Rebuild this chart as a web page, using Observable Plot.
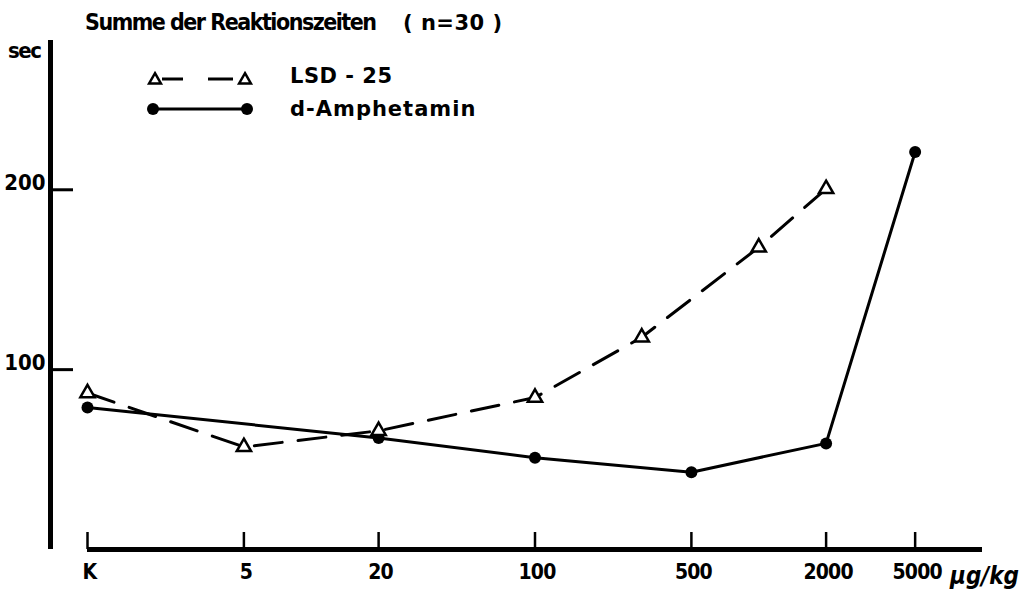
<!DOCTYPE html>
<html><head><meta charset="utf-8">
<script src="https://cdn.jsdelivr.net/npm/d3@7"></script>
<script src="https://cdn.jsdelivr.net/npm/@observablehq/plot@0.6"></script>
<style>
body{margin:0;background:#fff}
#wrap{position:relative;width:1027px;height:603px;background:#fff}
#wrap svg{position:absolute;left:0;top:0}
</style>
</head><body><div id="wrap"></div>
<script>
// Data (dose in µg/kg; "K" = control, drawn at dose position 1)
const lsdDose = [1, 5, 20, 100, 300, 1000, 2000];
const lsdSec  = [87, 57, 66, 84.5, 118, 168, 200.5];
const ampDose = [1, 20, 100, 500, 2000, 5000];
const ampSec  = [79, 62, 51, 43, 59, 221];
const xTicks = [1, 5, 20, 100, 500, 2000, 5000];
const xTickLabels = ["K", "5", "20", "100", "500", "2000", "5000"];
const yTicks = [100, 200];
const titleText = "Summe der Reaktionszeiten";
const titleN = "( n=30 )";
const yUnit = "sec";
const xUnit = "\u00b5g/kg";
const seriesNames = ["LSD - 25", "d-Amphetamin"];

const lsd = lsdDose.map((d, i) => ({dose: d, sec: lsdSec[i]}));
const amp = ampDose.map((d, i) => ({dose: d, sec: ampSec[i]}));
const xTickData = xTicks.map((d, i) => ({dose: d, label: xTickLabels[i]}));

const W = 1027, H = 603, mL = 87, mR = 45, mT = 40, mB = 54;
const frameW = W - mL - mR, frameH = H - mT - mB;
const condensed = "'DejaVu Sans Condensed', 'DejaVu Sans', sans-serif";

const chart = Plot.plot({
  width: W, height: H,
  marginLeft: mL, marginRight: mR, marginTop: mT, marginBottom: mB,
  x: {type: "log", domain: [1, 10000], axis: null},
  y: {domain: [0, 283], axis: null},
  style: {fontFamily: condensed, fontWeight: "bold", color: "#000", background: "transparent", fontStretch: "condensed"},
  marks: [
    Plot.ruleX([xTicks[0]], {x: d => d, dx: -37, strokeWidth: 5, stroke: "#000"}),
    Plot.ruleY([0], {strokeWidth: 5, stroke: "#000"}),
    Plot.tickX(xTicks, {x: d => d, insetTop: frameH - 17, strokeWidth: 2.5, stroke: "#000"}),
    Plot.tickY(yTicks, {y: d => d, insetLeft: -37, insetRight: frameW + mL - 73, strokeWidth: 3, stroke: "#000"}),
    Plot.text(xTickData, {x: "dose", text: "label", frameAnchor: "bottom", lineAnchor: "top", dy: 15, dx: 2, fontSize: 21, fontWeight: "bold", fill: "#000", letterSpacing: -0.8}),
    Plot.axisY({ticks: yTicks, tickSize: 0, tickPadding: 42, dy: -7, fontSize: 22, label: null}),
    Plot.line(amp, {x: "dose", y: "sec", stroke: "#000", strokeWidth: 3}),
    Plot.line(lsd, {x: "dose", y: "sec", stroke: "#000", strokeWidth: 3, strokeDasharray: "28,16"}),
    Plot.dot(amp, {x: "dose", y: "sec", r: 6, fill: "#000"}),
    Plot.dot(lsd, {x: "dose", y: "sec", symbol: "triangle", r: 5.3, fill: "#fff", stroke: "#000", strokeWidth: 2.5})
  ]
});
const wrap = document.getElementById("wrap");
wrap.appendChild(chart);
d3.select(chart).selectAll("text").attr("letter-spacing", null);
d3.select(chart).selectAll("g[aria-label=text] text").style("letter-spacing", "-0.8px");

// Annotation layer: title, unit labels, legend
const ov = d3.select(wrap).append("svg").attr("width", W).attr("height", H);
ov.append("text").attr("x", 85).attr("y", 30).attr("font-family", condensed).attr("font-stretch", "condensed")
  .attr("font-weight", "bold").attr("font-size", 23).attr("letter-spacing", -1.5).text(titleText);
ov.append("text").attr("x", 403).attr("y", 30).attr("font-family", "'DejaVu Sans', sans-serif")
  .attr("font-weight", "bold").attr("font-size", 21).attr("letter-spacing", 0.5).attr("xml:space", "preserve").text(titleN);
ov.append("text").attr("x", 8).attr("y", 58).attr("font-family", condensed).attr("font-stretch", "condensed")
  .attr("font-weight", "bold").attr("font-size", 22).attr("letter-spacing", -1.5).text(yUnit);
ov.append("text").attr("x", 950).attr("y", 584).attr("font-family", condensed).attr("font-stretch", "condensed")
  .attr("font-weight", "bold").attr("font-size", 24).attr("font-style", "italic").text(xUnit);

// legend: LSD
const tri = d3.symbol(d3.symbolTriangle, 60)();
[155, 245].forEach(cx => ov.append("path").attr("d", tri).attr("transform", `translate(${cx},80)`)
  .attr("fill", "#fff").attr("stroke", "#000").attr("stroke-width", 2.5));
[[162, 183], [208, 233]].forEach(([a, b]) => ov.append("line").attr("x1", a).attr("x2", b).attr("y1", 79).attr("y2", 79)
  .attr("stroke", "#000").attr("stroke-width", 3));
ov.append("text").attr("x", 290).attr("y", 83).attr("font-family", "'DejaVu Sans', sans-serif")
  .attr("font-weight", "bold").attr("font-size", 21).attr("letter-spacing", 0.5).text(seriesNames[0]);
// legend: amphetamine
ov.append("line").attr("x1", 153).attr("x2", 247).attr("y1", 109).attr("y2", 109).attr("stroke", "#000").attr("stroke-width", 3);
[153, 247].forEach(cx => ov.append("circle").attr("cx", cx).attr("cy", 109).attr("r", 6).attr("fill", "#000"));
ov.append("text").attr("x", 290).attr("y", 116).attr("font-family", "'DejaVu Sans', sans-serif")
  .attr("font-weight", "bold").attr("font-size", 21).attr("letter-spacing", 1).text(seriesNames[1]);
</script>
</body></html>
